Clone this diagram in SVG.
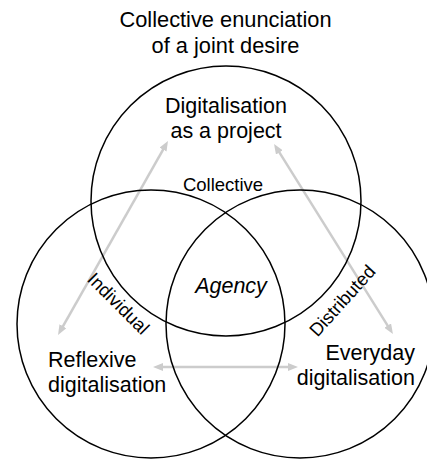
<svg xmlns="http://www.w3.org/2000/svg" width="427" height="461" viewBox="0 0 427 461">
<style>
  .circle { fill: none; stroke: #000; stroke-width: 1.5; }
  .conn { stroke: #cccccc; stroke-width: 2.5; fill: none; marker-start: url(#arrow); marker-end: url(#arrow); }
  text { font-family: "Liberation Sans", Arial, sans-serif; fill: #000; }
  .big { font-size: 21.5px; }
  .small { font-size: 18.5px; }
</style>
<defs>
  <marker id="arrow" viewBox="0 0 10 8" refX="5" refY="4" markerWidth="10" markerHeight="8" markerUnits="userSpaceOnUse" orient="auto-start-reverse">
    <path d="M0,0 L10,4 L0,8 z" fill="#cccccc"/>
  </marker>
</defs>
<rect width="427" height="461" fill="#fff"/>
<g id="title">
  <text x="225.5" y="27" text-anchor="middle" style="font-size:21.8px">Collective enunciation</text>
  <text x="225.5" y="53" text-anchor="middle" style="font-size:21.8px">of a joint desire</text>
</g>
<g id="connectors">
  <line class="conn" x1="165.5" y1="145.3" x2="60.5" y2="330.6"/>
  <line class="conn" x1="276.7" y1="148.2" x2="390.3" y2="329.8"/>
  <line class="conn" x1="158" y1="367" x2="293" y2="367"/>
</g>
<g id="node-project">
  <circle class="circle" cx="226" cy="201" r="135"/>
  <text class="big" x="226" y="113" text-anchor="middle">Digitalisation</text>
  <text class="big" x="226" y="138" text-anchor="middle">as a project</text>
</g>
<g id="node-reflexive">
  <circle class="circle" cx="151" cy="324" r="134"/>
  <text class="big" x="48" y="367">Reflexive</text>
  <text class="big" x="48" y="392">digitalisation</text>
</g>
<g id="node-everyday">
  <circle class="circle" cx="300" cy="324" r="134"/>
  <text class="big" x="415" y="360" text-anchor="end">Everyday</text>
  <text class="big" x="415" y="385" text-anchor="end">digitalisation</text>
</g>
<g id="labels">
  <text class="small" x="223" y="191" text-anchor="middle">Collective</text>
  <text class="small" text-anchor="middle" transform="translate(114,308) rotate(45)">Individual</text>
  <text class="small" text-anchor="middle" transform="translate(347,305) rotate(-48)">Distributed</text>
  <text class="big" x="231" y="293" text-anchor="middle" font-style="italic">Agency</text>
</g>
</svg>
